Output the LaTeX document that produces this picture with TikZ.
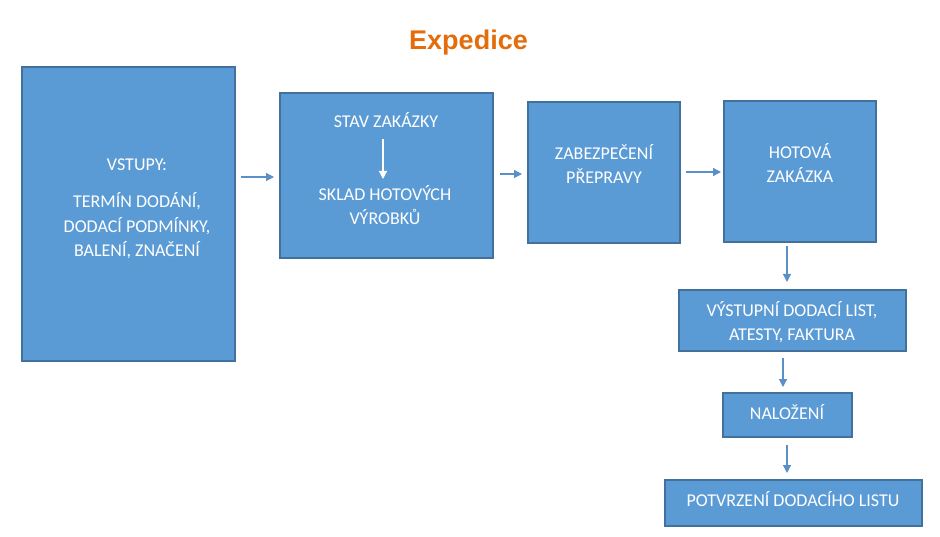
\documentclass[tikz,border=0pt]{standalone}
\usepackage{fontspec}
\setmainfont{Carlito}
\newfontfamily\titlefont{Liberation Sans}
\usetikzlibrary{arrows.meta}
\definecolor{boxfill}{HTML}{5B9BD5}
\definecolor{boxline}{HTML}{41719C}
\definecolor{arrowc}{HTML}{5B8FC8}
\definecolor{titlec}{HTML}{E46C0A}
\begin{document}
\begin{tikzpicture}[x=1pt,y=-1pt,
  box/.style={draw=boxline, line width=1.5pt, fill=boxfill, inner sep=0pt},
  txt/.style={text=white, font=\fontsize{18}{24.5}\selectfont, align=center, inner sep=0pt},
  conn/.style={draw=arrowc, line width=1.2pt, -{Triangle[length=8pt,width=8pt]}},
  wconn/.style={draw=white, line width=1.2pt, -{Triangle[length=8pt,width=8pt]}}]
\useasboundingbox (0,0) rectangle (940,537);
\fill[white] (0,0) rectangle (940,537);

\node[text=titlec, font=\titlefont\bfseries\fontsize{27}{30}\selectfont] (title) at (468.5,43) {Expedice};

% boxes
\path[box] (22,67) rectangle (235,361);
\node[inner sep=0pt, minimum width=213pt, minimum height=294pt] (vst) at (128.5,214) {};
\path[box] (280,93) rectangle (493,258);
\node[inner sep=0pt, minimum width=213pt, minimum height=165pt] (stav) at (386.5,175.5) {};
\path[box] (528,102) rectangle (680,243);
\node[inner sep=0pt, minimum width=152pt, minimum height=141pt] (zab) at (604,172.5) {};
\path[box] (724,101) rectangle (876,242);
\node[inner sep=0pt, minimum width=152pt, minimum height=141pt] (hot) at (800,171.5) {};
\path[box] (679,290) rectangle (906,351);
\node[inner sep=0pt, minimum width=227pt, minimum height=61pt] (vys) at (792.5,320.5) {};
\path[box] (723,393) rectangle (852,437);
\node[inner sep=0pt, minimum width=129pt, minimum height=44pt] (nal) at (787.5,415) {};
\path[box] (665,480) rectangle (922,526);
\node[inner sep=0pt, minimum width=257pt, minimum height=46pt] (pot) at (793.5,503) {};

% texts
\node[txt] (t1) at (137,165) {VSTUPY:};
\node[txt] (t2) at (137,226) {TERMÍN DODÁNÍ,\\DODACÍ PODMÍNKY,\\BALENÍ, ZNAČENÍ};
\node[txt] (s1) at (386,120) {STAV ZAKÁZKY};
\node[txt] (s2) at (385,205) {SKLAD HOTOVÝCH\\VÝROBKŮ};
\node[txt] (z1) at (604,164) {ZABEZPEČENÍ\\PŘEPRAVY};
\node[txt] (h1) at (800,163) {HOTOVÁ\\ZAKÁZKA};
\node[txt] (v1) at (792,322) {VÝSTUPNÍ DODACÍ LIST,\\ATESTY, FAKTURA};
\node[txt] (n1) at (787,412) {NALOŽENÍ};
\node[txt] (p1) at (793,499) {POTVRZENÍ DODACÍHO LISTU};

% connectors
\coordinate (a1s) at (241,177); \coordinate (a1e) at (274,177);
\draw[conn] (a1s) -- (a1e);
\coordinate (a2s) at (500,174); \coordinate (a2e) at (522,174);
\draw[conn] (a2s) -- (a2e);
\coordinate (a3s) at (686,172); \coordinate (a3e) at (721,172);
\draw[conn] (a3s) -- (a3e);
\coordinate (a4s) at (787,246); \coordinate (a4e) at (787,282);
\draw[conn] (a4s) -- (a4e);
\coordinate (a5s) at (783,358); \coordinate (a5e) at (783,387);
\draw[conn] (a5s) -- (a5e);
\coordinate (a6s) at (787,445); \coordinate (a6e) at (787,473);
\draw[conn] (a6s) -- (a6e);
\coordinate (w1) at (383,139); \coordinate (w2) at (383,179);
\draw[wconn] (w1) -- (w2);
\end{tikzpicture}
\end{document}
